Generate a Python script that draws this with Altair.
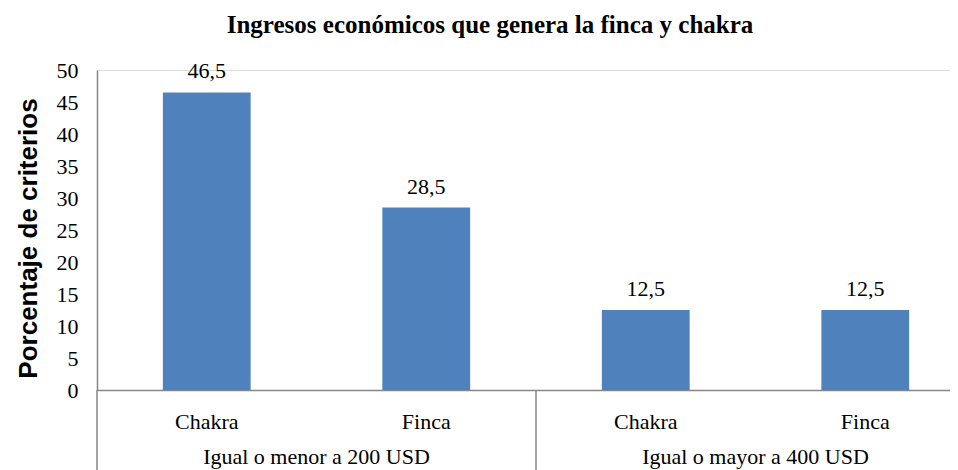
import altair as alt
import pandas as pd

titulo = "Ingresos económicos que genera la finca y chakra"
grupos = ["Igual o menor a 200 USD", "Igual o menor a 200 USD",
          "Igual o mayor a 400 USD", "Igual o mayor a 400 USD"]
tipos = ["Chakra", "Finca", "Chakra", "Finca"]
valores = [46.5, 28.5, 12.5, 12.5]
grupos_unicos = ["Igual o menor a 200 USD", "Igual o mayor a 400 USD"]

claves = [f"{g}|{t}" for g, t in zip(grupos, tipos)]
df = pd.DataFrame({"clave": claves, "grupo": grupos, "tipo": tipos, "valor": valores})
dg = pd.DataFrame({"grupo": grupos_unicos})
dt = pd.DataFrame({"titulo": [titulo]})

SERIF = "Liberation Serif"
SANS = "Liberation Sans"
RANGE = [0, 878]
FS = 22


def bar_scale():
    return alt.Scale(range=RANGE, paddingInner=0.6, paddingOuter=0.3)


def grp_scale():
    return alt.Scale(range=RANGE, paddingInner=0, paddingOuter=0)


x_bar = alt.X("clave:N", sort=claves, title=None, scale=bar_scale(),
              axis=alt.Axis(labelExpr="split(datum.label, '|')[1]", labelAngle=0,
                            labelFont=SERIF, labelFontSize=FS, labelColor="black",
                            labelPadding=21, ticks=False, tickSize=0,
                            domainColor="#868686", domainWidth=1.5))


def y_val():
    return alt.Y("valor:Q", scale=alt.Scale(domain=[0, 50]),
                 title="Porcentaje de criterios",
                 axis=alt.Axis(values=list(range(0, 51, 5)), ticks=False, tickSize=0,
                               grid=False, labelOverlap=False, labelFont=SERIF,
                               labelFontSize=FS, labelColor="black", labelPadding=19,
                               domainColor="#868686", domainWidth=1.5,
                               titleFont=SANS, titleFontSize=26, titleFontWeight="bold",
                               titleColor="black", titlePadding=15, titleY=168))


bars = alt.Chart(df).mark_bar(color="#4F81BD").encode(x=x_bar, y=y_val())

labels = alt.Chart(df).transform_calculate(
    txt="replace(format(datum.valor, '.1f'), '.', ',')"
).mark_text(font=SERIF, fontSize=FS, color="black", baseline="alphabetic", dy=-14).encode(
    x=alt.X("clave:N", sort=claves, scale=bar_scale(), axis=None),
    y=y_val(), text="txt:N")

grp_text = alt.Chart(dg).mark_text(font=SERIF, fontSize=FS, color="black",
                                   baseline="middle").encode(
    x=alt.X("grupo:N", sort=grupos_unicos, title=None, scale=grp_scale(), axis=None),
    y=alt.value(387), text="grupo:N")

seps = alt.Chart(dg).mark_rule(color="#868686", strokeWidth=1.5).encode(
    x=alt.X("grupo:N", sort=grupos_unicos, bandPosition=0, title=None,
            scale=grp_scale(), axis=None),
    y=alt.value(320), y2=alt.value(400))

title_mark = alt.Chart(dt).mark_text(font=SERIF, fontSize=25, fontWeight="bold",
                                     color="black", baseline="alphabetic",
                                     align="center").encode(
    x=alt.value(393), y=alt.value(-37), text="titulo:N")

chart = alt.layer(bars, labels, seps, grp_text, title_mark).resolve_scale(
    x="independent").properties(
    width=853, height=320,
    autosize=alt.AutoSizeParams(type="none"),
    padding={"left": 89, "top": 62, "right": 0, "bottom": 80},
).configure_view(stroke=None).configure(background="white")

chart.save("out.html", embed_options={"renderer": "svg", "actions": False})
